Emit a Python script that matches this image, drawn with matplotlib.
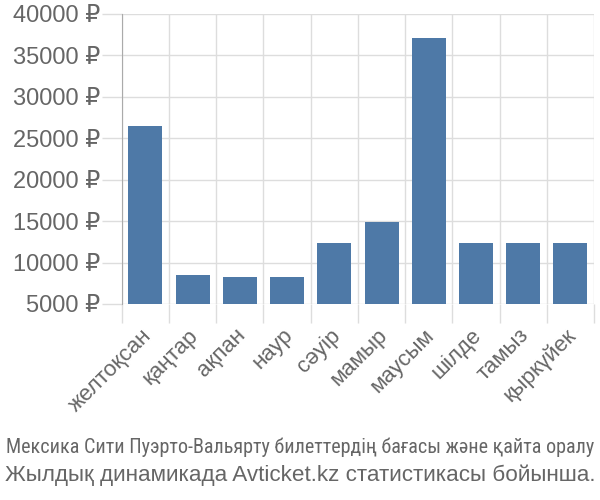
import os
import matplotlib
matplotlib.use("Agg")
import matplotlib.pyplot as plt
from matplotlib import font_manager
import numpy as np

months = ["желтоқсан", "қаңтар", "ақпан", "наур", "сәуір",
          "мамыр", "маусым", "шілде", "тамыз", "қыркүйек"]
prices = [26500, 8460, 8220, 8220, 12360, 14860, 37100, 12360, 12360, 12360]
yticks = [5000, 10000, 15000, 20000, 25000, 30000, 35000, 40000]
caption_1 = "Мексика Сити Пуэрто-Вальярту билеттердің бағасы және қайта оралу"
caption_2 = "Жылдық динамикада Avticket.kz статистикасы бойынша."

BAR = "#4e79a7"
GRID = "#dddddd"
TEXT = "#666666"

plt.rcParams["font.family"] = ["Liberation Sans", "DejaVu Sans"]


def narrow_font():
    # first caption line is in a condensed face; only use one if it really is narrow
    for name in ["Liberation Sans Narrow", "Roboto Condensed", "Open Sans Condensed"]:
        try:
            path = font_manager.findfont(name, fallback_to_default=False)
        except ValueError:
            continue
        base = os.path.basename(path).lower()
        if "narrow" in base or "condensed" in base:
            return font_manager.FontProperties(fname=path, size=14.5)
    return font_manager.FontProperties(family="Liberation Sans", size=13.1)


fig = plt.figure(figsize=(6, 5), dpi=100)
ax = fig.add_axes([0.203, 0.392, 0.787, 0.58])

x = np.arange(len(months))
ax.bar(x, prices, width=0.72, color=BAR, zorder=3)

ax.set_xlim(-0.5, len(months) - 0.5)
ax.set_ylim(5000, 40000)

ax.set_yticks(yticks)
ax.set_yticklabels([f"{v} ₽" for v in yticks], fontsize=17, color=TEXT)
ax.tick_params(axis="y", length=14.5, color=GRID, width=1, pad=1)
ax.yaxis.grid(True, color=GRID, linewidth=1, zorder=0)

ax.set_xticks(x - 0.1)
ax.set_xticklabels(months, rotation=45, ha="right", va="top",
                   rotation_mode="anchor", fontsize=16, color=TEXT)
ax.tick_params(axis="x", which="major", length=0, pad=15)
ax.set_xticks(np.arange(len(months) + 1) - 0.5, minor=True)
ax.tick_params(axis="x", which="minor", length=14, color=GRID, width=1)
ax.xaxis.grid(True, which="minor", color=GRID, linewidth=1, zorder=0)

for side in ["top", "right", "bottom"]:
    ax.spines[side].set_visible(False)
ax.spines["left"].set_color("#aaaaaa")
ax.spines["left"].set_zorder(4)

fig.text(0.5, 0.106, caption_1, ha="center", va="center",
         fontproperties=narrow_font(), color=TEXT)
fig.text(0.5, 0.05, caption_2, ha="center", va="center", fontsize=16.2,
         color=TEXT)

fig.savefig("out.png", dpi=100)
